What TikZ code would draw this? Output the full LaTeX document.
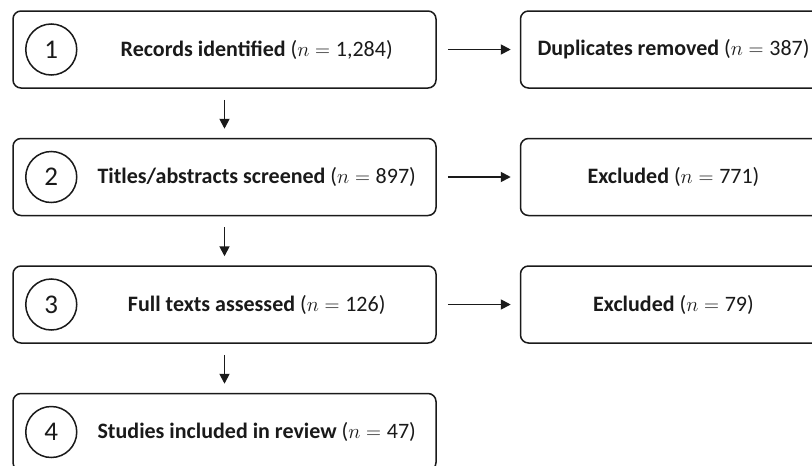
\documentclass[tikz,border=0pt]{standalone}
\usepackage{fontspec}
\setmainfont{Carlito}
\usepackage{xcolor}
\usetikzlibrary{arrows.meta, positioning}
\definecolor{ink}{HTML}{1A1A1A}
\definecolor{paper}{HTML}{FFFFFF}
\tikzset{
  stagebox/.style={rectangle, rounded corners=8pt, draw=ink, line width=1.5pt,
                   fill=paper, minimum width=423pt, minimum height=77pt,
                   inner sep=0pt},
  sidebox/.style={rectangle, rounded corners=8pt, draw=ink, line width=1.5pt,
                  fill=paper, minimum width=306pt, minimum height=77pt,
                  align=center, text=ink,
                  font=\fontsize{22pt}{26pt}\selectfont},
  num/.style={circle, draw=ink, line width=1.5pt, minimum size=51pt,
              inner sep=0pt, text=ink, font=\fontsize{27pt}{30pt}\selectfont},
  stagetext/.style={minimum width=358pt, inner sep=0pt, text=ink,
                    font=\fontsize{22pt}{26pt}\selectfont},
  arrow/.style={-{Triangle[length=10pt, width=10pt]}, line width=1.8pt,
                draw=ink, shorten <=11pt, shorten >=9pt},
}
\newcommand{\stage}[2]{\textbf{#1} (\(n={}\)#2)}

\begin{document}
\begin{tikzpicture}[node distance=49pt]
  \useasboundingbox[fill=paper] (0,0) rectangle (812pt,-466pt);

  % ---- main column ----
  \node[stagebox] (rec) at (224.5pt,-49.5pt) {};
  \node[stagebox, below=of rec] (tit) {};
  \node[stagebox, below=of tit] (ful) {};
  \node[stagebox, below=of ful] (stu) {};

  \node[num] (n1) at ([xshift=39pt]rec.west) {1};
  \node[num] (n2) at ([xshift=39pt]tit.west) {2};
  \node[num] (n3) at ([xshift=39pt]ful.west) {3};
  \node[num] (n4) at ([xshift=39pt]stu.west) {4};

  \node[stagetext, right=0pt of n1] (t1) {\stage{Records identified}{1,284}};
  \node[stagetext, right=0pt of n2] (t2) {\stage{Titles/abstracts screened}{897}};
  \node[stagetext, right=0pt of n3] (t3) {\stage{Full texts assessed}{126}};
  \node[stagetext, right=0pt of n4] (t4) {\stage{Studies included in review}{47}};

  % ---- removed / excluded ----
  \node[sidebox, right=83pt of rec] (dup) {\stage{Duplicates removed}{387}};
  \node[sidebox, right=83pt of tit] (ex1) {\stage{Excluded}{771}};
  \node[sidebox, right=83pt of ful] (ex2) {\stage{Excluded}{79}};

  \draw[arrow] (rec) -- (tit);
  \draw[arrow] (tit) -- (ful);
  \draw[arrow] (ful) -- (stu);
  \draw[arrow] (rec) -- (dup);
  \draw[arrow] (tit) -- (ex1);
  \draw[arrow] (ful) -- (ex2);
\end{tikzpicture}
\end{document}
